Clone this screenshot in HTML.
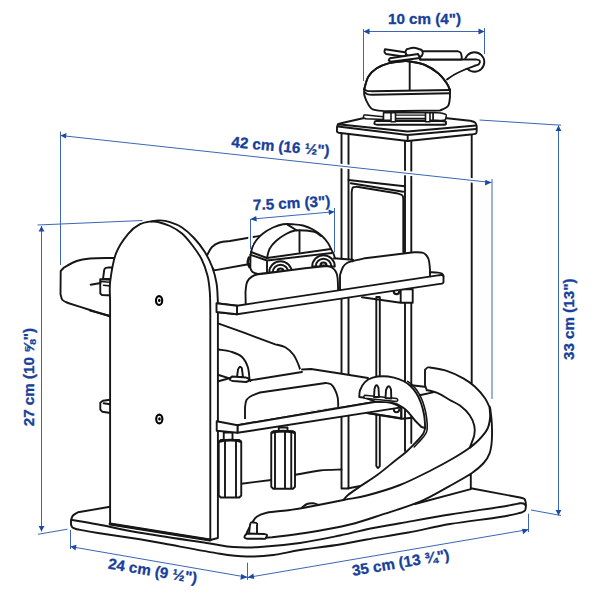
<!DOCTYPE html>
<html><head><meta charset="utf-8">
<style>
html,body{margin:0;padding:0;background:#fff;width:600px;height:600px;overflow:hidden}
svg{position:absolute;left:0;top:0}
.t{font-family:"Liberation Sans",sans-serif;font-weight:bold;font-size:15.2px;fill:#16409a;stroke:#16409a;stroke-width:0.3px}
.d{stroke:#3a66b5;stroke-width:1;fill:none}
.a{fill:#1a4aa5}
.k{stroke:#161616;stroke-width:1.9;fill:none;stroke-linecap:round;stroke-linejoin:round}
.w{stroke:#161616;stroke-width:1.9;fill:#fff;stroke-linecap:round;stroke-linejoin:round}
.f{fill:#fff;stroke:none}
</style></head><body>
<svg width="600" height="600" viewBox="0 0 600 600">
<g id="draw">
<path class="f" d="M110 506.8L78 512.3C77.17 512.83 74.17 514.22 73 515.5C71.83 516.78 71.33 519.25 71 520L71 524.5C71.25 525 71.5 526.7 72.5 527.5C73.5 528.3 76.25 529 77 529.3C80.5 529.92 87.5 531.33 98 533C108.5 534.67 128.83 537.5 140 539.3C151.17 541.1 151.67 541.4 165 543.8C178.33 546.2 206.38 551.58 220 553.7C233.62 555.82 237.82 556.28 246.7 556.5C255.58 556.72 264.42 556.08 273.3 555C282.18 553.92 288.88 551.75 300 550C311.12 548.25 328.88 546.25 340 544.5C351.12 542.75 355.32 541.5 366.7 539.5C378.08 537.5 394.42 535.08 408.3 532.5C422.18 529.92 434.72 526.58 450 524C465.28 521.42 488.05 518.92 500 517C511.95 515.08 518.08 513.25 521.7 512.5C522.25 512.17 524.32 511.42 525 510.5C525.68 509.58 525.67 507.58 525.8 507L525.8 503C525.58 502.33 525.47 499.92 524.5 499C523.53 498.08 520.75 497.75 520 497.5L470.8 488.3Z"/>
<path class="k" d="M110 506.8L78 512.3C77.17 512.83 74.17 514.22 73 515.5C71.83 516.78 71.33 519.25 71 520L71 524.5C71.25 525 71.5 526.7 72.5 527.5C73.5 528.3 76.25 529 77 529.3C80.5 529.92 87.5 531.33 98 533C108.5 534.67 128.83 537.5 140 539.3C151.17 541.1 151.67 541.4 165 543.8C178.33 546.2 206.38 551.58 220 553.7C233.62 555.82 237.82 556.28 246.7 556.5C255.58 556.72 264.42 556.08 273.3 555C282.18 553.92 288.88 551.75 300 550C311.12 548.25 328.88 546.25 340 544.5C351.12 542.75 355.32 541.5 366.7 539.5C378.08 537.5 394.42 535.08 408.3 532.5C422.18 529.92 434.72 526.58 450 524C465.28 521.42 488.05 518.92 500 517C511.95 515.08 518.08 513.25 521.7 512.5C522.25 512.17 524.32 511.42 525 510.5C525.68 509.58 525.67 507.58 525.8 507L525.8 503C525.58 502.33 525.47 499.92 524.5 499C523.53 498.08 520.75 497.75 520 497.5L470.8 488.3"/>
<path class="k" d="M72 520C76.38 520.75 86.97 522.37 98.3 524.5C109.63 526.63 121.93 529.72 140 532.8C158.07 535.88 191.15 540.63 206.7 543C222.25 545.37 224.42 546.33 233.3 547C242.18 547.67 248.88 547.67 260 547C271.12 546.33 286.67 544.92 300 543C313.33 541.08 327.78 538 340 535.5C352.22 533 363.3 530.03 373.3 528C383.3 525.97 387.22 525.55 400 523.3C412.78 521.05 433.33 517.22 450 514.5C466.67 511.78 488.33 508.87 500 507C511.67 505.13 516.67 503.92 520 503.3C520.58 503.33 522.53 503.13 523.5 503.5C524.47 503.87 525.42 505.17 525.8 505.5"/>
<path class="k" d="M341.5 133M341.5 133L341.5 488.5M348.5 134L348.5 488.5M341.5 488.5L348.5 488.5M405 141L405 451M411.3 141L411.3 443M471.7 133L471.7 383"/>
<path class="w" d="M376.3 297L376.3 466C376.58 466.33 377.42 468 378 468C378.58 468 379.5 466.33 379.8 466L379.8 297Z"/>
<path class="k" d="M241.25 483.75L271.25 480"/>
<path class="k" d="M295 475C299.17 474.25 312.25 471.42 320 470.5C327.75 469.58 337.92 469.67 341.5 469.5"/>
<path class="k" d="M348.5 488.3L361.7 485.8"/>
<path class="k" d="M348.5 180M348.5 180L404.5 186.3M350.8 183.3L403.3 191.7"/>
<path class="k" d="M351.7 260L351.7 192C351.88 191.25 351.92 188.37 352.8 187.5C353.68 186.63 356.3 186.92 357 186.8L398 193.5C398.75 193.83 401.62 194.42 402.5 195.5C403.38 196.58 403.17 199.25 403.3 200L403.3 252"/>
<path class="w" d="M341 123.3L363 118.3L435.5 117L470 120.7C470.83 121 473.88 121.62 475 122.5C476.12 123.38 476.42 125.42 476.7 126L476.7 131C476.58 131.42 476.62 132.97 476 133.5C475.38 134.03 473.5 134.08 473 134.2L407.7 141L338.5 132.7C338.25 132.5 337.25 132.03 337 131.5C336.75 130.97 337 129.83 337 129.5L337 127C337.17 126.58 337.33 125.12 338 124.5C338.67 123.88 340.5 123.5 341 123.3Z"/>
<path class="k" d="M338 124.3M338 124.3L407.7 131.5L476 125.5M338 126.5L407.7 135L476 129M407.7 135L407.7 141"/>
<path class="w" d="M364 115C363.92 115.42 363.17 116.88 363.5 117.5C363.83 118.12 365.58 118.5 366 118.7L383.5 119.5L383.5 116.8L366 115Z" style="stroke-width:1.5"/>
<path class="w" d="M433 112.5L441 113C441.83 113.25 445.17 113.83 446 114.5C446.83 115.17 446 116.58 446 117C445.83 117.5 446 119.42 445 120C444 120.58 440.83 120.42 440 120.5L433 120Z" style="stroke-width:1.5"/>
<path class="w" d="M377 121L440 121C440.92 121.08 444.5 121.17 445.5 121.5C446.5 121.83 445.92 122.75 446 123C445.92 123.25 446.5 124.22 445.5 124.5C444.5 124.78 440.92 124.67 440 124.7L377 124.7C376.58 124.58 374.92 124.28 374.5 124C374.08 123.72 374.5 123.17 374.5 123C374.58 122.72 374.58 121.63 375 121.3C375.42 120.97 376.67 121.05 377 121Z"/>
<path class="w" d="M383.5 112.7L433 112.7L433 120.2L383.5 120.2Z" style="stroke-width:1.6"/>
<path class="k" d="M395.5 115.2M395.5 115.2L425.5 115.2M395.5 118.5L425.5 118.5" style="stroke-width:1.3"/>
<path class="w" d="M391 112.7M391 112.7L395.5 112.7L395.5 121.7L391 121.7ZM425.5 112.7M425.5 112.7L430 112.7L430 121.7L425.5 121.7Z" style="stroke-width:1.6"/>
<path class="w" d="M364.2 89.2C364.88 87.12 366.22 80.18 368.3 76.7C370.38 73.22 373.37 70.53 376.7 68.3C380.03 66.07 383.87 64.47 388.3 63.3C392.73 62.13 399.68 61.6 403.3 61.3C406.92 61 406.38 60.88 410 61.5C413.62 62.12 420.28 63.03 425 65C429.72 66.97 434.68 70.25 438.3 73.3C441.92 76.35 444.75 80.52 446.7 83.3C448.65 86.08 449.45 88.88 450 90L450 97C449.67 98.5 449.67 103.75 448 106C446.33 108.25 441.33 109.75 440 110.5L385 111.2C382.83 110.83 375.08 110.7 372 109C368.92 107.3 367.42 102.33 366.5 101C366.13 100 364.68 96.97 364.3 95C363.92 93.03 364.22 90.17 364.2 89.2Z"/>
<path class="k" d="M364.2 89.2C364.67 89.47 365.7 90.47 367 90.8C368.3 91.13 371.17 91.13 372 91.2L450 90"/>
<path class="k" d="M365 92.5C365.5 92.82 366.67 94.02 368 94.4C369.33 94.78 372.17 94.73 373 94.8L450 93.3"/>
<path class="k" d="M409.7 61.7L409.7 89.7"/>
<circle class="w" cx="474.5" cy="62" r="9.8"/>
<path class="f" d="M420 59.5L476 59.5C476.58 59.67 478.87 60 479.5 60.5C480.13 61 479.75 62.17 479.8 62.5C479.58 62.83 479.22 64 478.5 64.5C477.78 65 476 65.33 475.5 65.5C473.75 66.17 468.5 68 465 69.5C461.5 71 457.5 72.83 454.5 74.5C451.5 76.17 448.25 78.67 447 79.5L432 67Z"/>
<path class="k" d="M420 59.5L476 59.5C476.58 59.67 478.87 60 479.5 60.5C480.13 61 479.75 62.17 479.8 62.5C479.58 62.83 479.22 64 478.5 64.5C477.78 65 476 65.33 475.5 65.5C473.75 66.17 468.5 68 465 69.5C461.5 71 457.5 72.83 454.5 74.5C451.5 76.17 448.25 78.67 447 79.5"/>
<path class="w" d="M421.5 51.2L457.5 51.2C458 51.42 459.8 51.62 460.5 52.5C461.2 53.38 461.5 55.83 461.7 56.5L461.7 59.5L420 59.5Z"/>
<path class="k" d="M364.2 89.2C364.88 87.12 366.22 80.18 368.3 76.7C370.38 73.22 373.37 70.53 376.7 68.3C380.03 66.07 383.87 64.47 388.3 63.3C392.73 62.13 399.68 61.6 403.3 61.3C406.92 61 406.38 60.88 410 61.5C413.62 62.12 420.28 63.03 425 65C429.72 66.97 434.68 70.25 438.3 73.3C441.92 76.35 444.75 80.52 446.7 83.3C448.65 86.08 449.45 88.88 450 90"/>
<path class="w" d="M385 49.2L406.7 52.5L405 56.7L386 54C385.75 53.67 384.67 52.8 384.5 52C384.33 51.2 384.92 49.67 385 49.2Z"/>
<path class="w" d="M406.7 49.2C407.92 48.97 411.5 47.67 414 47.8C416.5 47.93 420.42 49.63 421.7 50C421.88 50.5 422.8 52 422.8 53C422.8 54 421.88 55.5 421.7 56C420.42 56.22 416.5 57.47 414 57.3C411.5 57.13 407.92 55.38 406.7 55C406.5 54.5 405.5 52.97 405.5 52C405.5 51.03 406.5 49.67 406.7 49.2Z"/>
<path class="w" d="M390 58.3L418 54L420 58L390.5 61.7C390.2 61.42 388.78 60.57 388.7 60C388.62 59.43 389.78 58.58 390 58.3Z"/>
<path class="w" d="M206 258L207.5 254.5C208.25 253.25 210 249 212 247C214 245 216.5 243.5 219.5 242.5C222.5 241.5 228.25 241.25 230 241L300 229L300 255L247 264.5L214.2 270.4Z"/>
<path class="w" d="M250.8 254C251.08 252.83 251.55 249.33 252.5 247C253.45 244.67 254.75 242.25 256.5 240C258.25 237.75 260.25 235.58 263 233.5C265.75 231.42 269.67 229.03 273 227.5C276.33 225.97 279.67 224.83 283 224.3C286.33 223.77 289.67 224.1 293 224.3C296.33 224.5 299.67 224.63 303 225.5C306.33 226.37 309.83 227.75 313 229.5C316.17 231.25 319.5 233.75 322 236C324.5 238.25 326.5 240.83 328 243C329.5 245.17 330.5 248 331 249C331.5 250 333.25 252.83 334 255C334.75 257.17 335.33 260 335.5 262C335.67 264 335.08 266.17 335 267L258 274C257.08 273.67 253.78 273 252.5 272C251.22 271 250.67 268.67 250.3 268L250.5 254.5Z"/>
<path class="k" d="M251 252M251 252L267 258L331 249M250.5 254.8L267 260.5L332 253M267 260.5L267 272.5M299.5 230.5L299.5 251.5"/>
<path class="k" d="M267 258C267.42 256.5 268 251.83 269.5 249C271 246.17 273.25 243.5 276 241C278.75 238.5 282.83 235.75 286 234C289.17 232.25 291.83 231.08 295 230.5C298.17 229.92 301.67 230.25 305 230.5C308.33 230.75 312.33 231.08 315 232C317.67 232.92 320 235.33 321 236"/>
<path class="k" d="M287.5 224.6L296.5 230.3"/>
<path class="k" d="M249 257.5C248.8 258.33 247.72 260.92 247.8 262.5C247.88 264.08 249.22 266.25 249.5 267" style="stroke-width:2.6"/>
<path class="f" d="M333 259L353 260.5L353 292L333 292Z"/>
<path class="k" d="M334 258.2L353 259.7"/>
<path class="w" d="M269.2 272.5A11.3 11.3 0 0 1 291.8 272.5Z"/>
<path class="k" d="M272.7 272.5A7.8 7.8 0 0 1 288.3 272.5"/>
<path class="w" d="M277.5 271.5A3 3 0 0 1 283.5 271.5Z" style="stroke-width:2.2"/>
<path class="w" d="M312.2 266.5A11.3 11.3 0 0 1 334.8 266.5Z"/>
<path class="k" d="M315.7 266.5A7.8 7.8 0 0 1 331.3 266.5"/>
<path class="w" d="M320.5 265.5A3 3 0 0 1 326.5 265.5Z" style="stroke-width:2.2"/>
<path class="w" d="M340 292.5L340 275C340.5 273.67 341.83 269 343 267C344.17 265 345.33 264 347 263C348.67 262 350 261.8 353 261C356 260.2 363 258.67 365 258.2L414 252.3C415.58 252.42 421.08 251.88 423.5 253C425.92 254.12 427.42 256.17 428.5 259C429.58 261.83 429.75 268.17 430 270L430 279Z"/>
<path class="w" d="M245.7 305.5L245.5 292C245.67 290.67 245.92 286.17 246.5 284C247.08 281.83 247.58 280.5 249 279C250.42 277.5 252.33 275.92 255 275C257.67 274.08 263.33 273.75 265 273.5L305 268.3L327 266C327.83 266.25 330.5 266.5 332 267.5C333.5 268.5 335.07 270.25 336 272C336.93 273.75 337.23 274.58 337.6 278C337.97 281.42 338.1 290.08 338.2 292.5Z"/>
<path class="w" d="M362 297.3L400.7 302.7L400.7 289.3L412.7 289.3L412.7 302.7L400.7 302.7"/>
<path class="k" d="M393.8 291.5A2.7 2.7 0 0 0 399.2 291.5" style="stroke-width:2.2"/>
<path class="k" d="M430 272.2C431.33 272.27 436.03 272.37 438 272.6C439.97 272.83 440.88 273.03 441.8 273.6C442.72 274.17 443.22 275.6 443.5 276"/>
<path class="w" d="M237 305.7L438 275.4C438.67 275.33 441.08 274.82 442 275C442.92 275.18 443.25 276.25 443.5 276.5L443.5 282C443.33 282.25 443.08 283.18 442.5 283.5C441.92 283.82 440.42 283.83 440 283.9L237 314.2Z"/>
<path class="w" d="M216.3 303.3L237 305.7L237 314.2L216.3 312Z"/>
<path class="f" d="M218.7 323.7L245.3 333.2L275.3 344.3C276.97 344.8 282.23 345.52 285.3 347.3C288.37 349.08 291.47 352 293.7 355C295.93 358 297.6 362.75 298.7 365.3C299.8 367.85 300.03 369.47 300.3 370.3L302.8 370.8L302.8 372.3L250 381L218.7 376Z"/>
<path class="k" d="M218.7 323.7L245.3 333.2L275.3 344.3C276.97 344.8 282.23 345.52 285.3 347.3C288.37 349.08 291.47 352 293.7 355C295.93 358 297.6 362.75 298.7 365.3C299.8 367.85 300.03 369.47 300.3 370.3L302.8 370.8L302.8 372.3"/>
<path class="k" d="M218.7 349.5C220.92 349.92 228.12 350.75 232 352C235.88 353.25 239.37 354.5 242 357C244.63 359.5 246.55 363.38 247.8 367C249.05 370.62 249.08 376.33 249.5 378.7C249.92 381.07 250.17 380.78 250.3 381.2"/>
<path class="k" d="M218.7 375L230.3 378.7"/>
<path class="k" d="M217.5 381.5L232 377.5"/>
<path class="f" d="M300.3 369L311 369L341.7 373.7L370 377.7L399 403L238 428Z"/>
<path class="k" d="M250.3 380.3M250.3 380.3L302 372"/>
<path class="k" d="M302 369.5L311 369L341.7 373.7L368 378"/>
<path class="w" d="M237 377L238 369.5C238.3 369.05 239.17 367.05 239.8 366.8C240.43 366.55 241.47 367.8 241.8 368L243 377Z"/>
<path class="w" d="M232 376.5L246 377.5C246.47 377.72 248.38 378.22 248.8 378.8C249.22 379.38 248.55 380.63 248.5 381L246 382L233 381C232.5 380.83 230.42 380.5 230 380C229.58 379.5 230.42 378.33 230.5 378Z"/>
<path class="w" d="M245 421L245 407.5C245.25 406.25 245.46 401.92 246.5 400C247.54 398.08 249 397.25 251.25 396C253.5 394.75 258.54 393.08 260 392.5L325.7 383C326.58 383.22 329.45 383.18 331 384.3C332.55 385.42 333.88 387.47 335 389.7C336.12 391.93 337.15 394.65 337.7 397.7C338.25 400.75 338.2 406.28 338.3 408Z"/>
<path class="f" d="M216.25 421.5L245 419L338 407L376 402L380 402.5L237.5 425.2Z"/>
<path class="w" d="M237.5 425.2L376 401.8L401.3 407.7L401.3 418.3L367.3 413"/>
<path class="w" d="M237.5 425.2L376 401.8C378.33 401.92 385.78 401.57 390 402.5C394.22 403.43 399.42 406.58 401.3 407.4L237.5 432.8Z"/>
<path class="k" d="M367.3 413L401.8 418.8L412.7 417.7"/>
<path class="k" d="M401.3 407.7L401.3 418.6"/>
<path class="k" d="M393.8 409.5A2.7 2.7 0 0 0 399.2 409.5"/>
<path class="w" d="M223.75 432.5L232.5 432.5L232.5 440L223.75 440Z"/>
<path class="w" d="M220.75 440L239.25 440L241.25 442L241.25 495.5L239.25 497.5L220.75 497.5L218.75 495.5L218.75 442L220.75 440Z"/>
<path class="k" d="M225 441M225 441L225 497M236 441L236 497"/>
<path class="w" d="M278.75 427.5L287.5 427.5L287.5 431.25L278.75 431.25Z"/>
<path class="w" d="M273.25 431.25L293 431.25L295 433.25L295 486.75L293 488.75L273.25 488.75L271.25 486.75L271.25 433.25L273.25 431.25Z"/>
<path class="k" d="M275 432M275 432L275 488M285 432L285 488M291.25 432L291.25 488"/>
<path class="k" d="M219.5 441.5C220.42 441.3 222.25 440.5 225 440.3C227.75 440.1 233.42 440.1 236 440.3C238.58 440.5 239.75 441.3 240.5 441.5" style="stroke-width:2.8"/>
<path class="k" d="M272 432.5C273 432.3 275.33 431.5 278 431.3C280.67 431.1 285.28 431.1 288 431.3C290.72 431.5 293.25 432.3 294.3 432.5" style="stroke-width:2.8"/>
<path class="w" d="M415 504L470.8 489.2L470.8 474L440 482Z"/>
<path class="f" d="M425.2 428C424.83 429 424.53 431.63 423 434C421.47 436.37 418.72 439.28 416 442.2C413.28 445.12 410.2 448.4 406.7 451.5C403.2 454.6 399.87 456.92 395 460.8C390.13 464.68 383.33 470.52 377.5 474.8C371.67 479.08 364.92 483.13 360 486.5C355.08 489.87 350.75 492.75 348 495C345.25 497.25 344.25 499.17 343.5 500L343.5 500L366.7 495.5L400 485L431.7 470L453.3 458.3L469.7 447.8L479 439.7L487.2 429.2L490.1 417.5L489.5 407Z"/>
<path class="w" d="M490.3 409C490.55 411.38 491.55 418 491.8 423.3C492.05 428.6 492.18 435.73 491.8 440.8C491.42 445.87 490.85 450 489.5 453.7C488.15 457.4 486.62 459.78 483.7 463C480.78 466.22 477.62 469.2 472 473C466.38 476.8 458.67 481.02 450 485.8C441.33 490.58 431.12 496.97 420 501.7C408.88 506.43 394.97 510.4 383.3 514.2C371.63 518 362.77 521.4 350 524.5C337.23 527.6 319.7 530.67 306.7 532.8C293.7 534.93 277.78 536.55 272 537.3L262 538L250 537.5C249.42 536.92 246.22 536.37 246.5 534C246.78 531.63 250.83 525.08 251.7 523.3C251.7 523.3 250.87 524.4 251.7 523.3C252.53 522.2 254.2 518.47 256.7 516.7C259.2 514.93 261.15 513.82 266.7 512.7C272.25 511.58 283.33 510.9 290 510C296.67 509.1 297.78 508.97 306.7 507.3C315.62 505.63 333.5 501.97 343.5 500C353.5 498.03 357.28 498 366.7 495.5C376.12 493 389.17 489.25 400 485C410.83 480.75 422.82 474.45 431.7 470C440.58 465.55 446.97 462 453.3 458.3C459.63 454.6 465.42 450.9 469.7 447.8C473.98 444.7 476.08 442.8 479 439.7C481.92 436.6 485.35 432.9 487.2 429.2C489.05 425.5 489.72 421.2 490.1 417.5C490.48 413.8 489.6 408.75 489.5 407Z"/>
<path class="w" d="M425 385L425 370C425.42 369.58 426.67 367.92 427.5 367.5C428.33 367.08 429.58 367.5 430 367.5C432.78 368.05 441.15 369 446.7 370.8C452.25 372.6 458.58 375.65 463.3 378.3C468.02 380.95 471.38 383.37 475 386.7C478.62 390.03 482.45 394.58 485 398.3C487.55 402.02 489.42 407.22 490.3 409C490.17 408.67 489.53 405.58 489.5 407C489.47 408.42 490.48 413.8 490.1 417.5C489.72 421.2 489.05 425.5 487.2 429.2C485.35 432.9 481.92 436.6 479 439.7C476.08 442.8 471.25 446.45 469.7 447.8C470.47 445.67 473.53 438.68 474.3 435C475.07 431.32 475.07 429 474.3 425.7C473.53 422.4 472.03 418.52 469.7 415.2C467.37 411.88 463.62 408.33 460.3 405.8C456.98 403.27 453.47 402.08 449.8 400C446.13 397.92 442.15 394.97 438.3 393.3C434.45 391.63 428.63 390.55 426.7 390C426.7 390 426.98 390.83 426.7 390C426.42 389.17 425.28 385.83 425 385Z"/>
<path class="k" d="M411.5 385.2L424.5 386.8"/>
<path class="k" d="M419.5 395.2L433 392.4"/>
<path class="w" d="M359.3 397C359.42 395.88 359.1 392.75 360 390.3C360.9 387.85 362.58 384.4 364.7 382.3C366.82 380.2 369.6 378.7 372.7 377.7C375.8 376.7 379.75 376.3 383.3 376.3C386.85 376.3 390.67 376.92 394 377.7C397.33 378.48 400.55 379.62 403.3 381C406.05 382.38 408.3 383.92 410.5 386C412.7 388.08 414.75 390.67 416.5 393.5C418.25 396.33 419.72 399.33 421 403C422.28 406.67 423.5 411.33 424.2 415.5C424.9 419.67 425.03 425.92 425.2 428L421.5 427C421.5 427 421.92 427.42 421.5 427C421.08 426.58 420.08 425.58 419 424.5C417.92 423.42 416.5 422.2 415 420.5C413.5 418.8 411.95 416.43 410 414.3C408.05 412.17 406.3 409.62 403.3 407.7C400.3 405.78 396.55 403.78 392 402.8C387.45 401.82 378.67 401.97 376 401.8L364.7 397.7Z"/>
<path class="k" d="M425.2 428C424.83 429 424.53 431.63 423 434C421.47 436.37 418.72 439.28 416 442.2C413.28 445.12 410.2 448.4 406.7 451.5C403.2 454.6 399.87 456.92 395 460.8C390.13 464.68 383.33 470.52 377.5 474.8C371.67 479.08 364.92 483.13 360 486.5C355.08 489.87 350.75 492.75 348 495C345.25 497.25 344.25 499.17 343.5 500"/>
<path class="k" d="M407.61 381.35L409.07 382.32L410.53 383.39L411.85 384.53L413.03 385.7L414.15 386.93L415.23 388.22L416.27 389.58L417.26 390.99L418.2 392.45L419.09 393.94L419.93 395.48L420.73 397.08L421.49 398.74L422.21 400.49L422.89 402.34L423.54 404.31L424.17 406.4L424.76 408.56L425.29 410.78L425.77 412.99L426.17 415.17L426.51 417.38L426.8 419.68L427.03 421.99L427.18 424.22L427.24 426.28L427.2 428.11L427.06 429.61L426.82 430.88L426.46 432.01L425.96 433.04L425.38 434.01L424.66 435.12L423.74 436.42L422.65 437.8L421.45 439.21L420.16 440.65L418.82 442.1L417.45 443.57L415.91 445.19L414.14 446.98" style="stroke-width:1.6"/>
<path class="w" d="M364.7 395.2L396.7 398.5C396.88 398.75 397.8 399.5 397.8 400C397.8 400.5 396.88 401.25 396.7 401.5L364.7 398.2C364.55 397.95 363.8 397.2 363.8 396.7C363.8 396.2 364.55 395.45 364.7 395.2Z" style="stroke-width:1.5"/>
<path class="w" d="M374 397L374.5 389C374.67 388.5 375.08 386.62 375.5 386C375.92 385.38 376.5 384.97 377 385.3C377.5 385.63 378.25 387.55 378.5 388L379 397Z"/>
<path class="w" d="M385.5 398L386 390C386.25 389.5 386.92 387.58 387.5 387C388.08 386.42 388.92 386.08 389.5 386.5C390.08 386.92 390.75 389 391 389.5L391.3 398.5Z"/>
<path class="k" d="M302 507.5C302.83 506.92 305.17 504.7 307 504C308.83 503.3 311 503.13 313 503.3C315 503.47 318 504.72 319 505"/>
<path class="w" d="M249 534L250 525C250.17 524.58 250.33 522.92 251 522.5C251.67 522.08 253.5 522.5 254 522.5C254.5 522.67 256.5 522.92 257 523.5C257.5 524.08 257 525.58 257 526L257 534Z"/>
<path class="w" d="M247 533.5L264 534C264.5 534.17 266.67 534.42 267 535C267.33 535.58 266.17 537.08 266 537.5C265.83 537.71 265.67 538.54 265 538.75C264.33 538.96 262.5 538.75 262 538.75L247 538.75C246.58 538.54 244.83 538.04 244.5 537.5C244.17 536.96 244.92 535.83 245 535.5Z"/>
<path class="w" d="M115 258L110 258C106.67 258.08 95.55 258 90 258.5C84.45 259 81.03 259.5 76.7 261C72.37 262.5 66.12 266.42 64 267.5L60.7 271L60.5 294C60.83 295 61.25 298.5 62.5 300C63.75 301.5 67.08 302.5 68 303C71.67 304.17 83.17 307.83 90 310C96.83 312.17 105.83 315 109 316L115 318Z"/>
<path class="w" d="M103 279L104.2 270C104.37 269.7 104.52 268.62 105.2 268.2C105.88 267.78 107.78 267.62 108.3 267.5L112 267.5L112 279Z"/>
<path class="w" d="M100.2 279.3L112 279.8L112 295.5L102 295L100.3 293.5Z"/>
<path class="k" d="M100.5 281.5M100.5 281.5L110 282.2M103.5 285.3L110 285.9" style="stroke-width:1.6"/>
<path class="k" d="M90.7 284.7L100.7 283"/>
<path class="k" d="M90 310.5L112 316.5"/>
<path class="w" d="M112 399.5L102.8 400.8L100.3 402.8L100.3 409.5L102.5 411.8L112 413.2Z"/>
<path class="k" d="M103.7 403.3L110 404.3"/>
<path class="w" d="M110.1 524L110.1 300C110.12 296.92 109.22 289.28 110.2 281.5C111.18 273.72 113 261.25 116 253.3C119 245.35 124.2 238.65 128.2 233.8C132.2 228.95 136.03 226.3 140 224.2C143.97 222.1 148.67 221.83 152 221.2C155.33 220.57 157 220.23 160 220.4C163 220.57 166.33 221.02 170 222.2C173.67 223.38 178 224.87 182 227.5C186 230.13 190.25 234 194 238C197.75 242 201.5 246.75 204.5 251.5C207.5 256.25 210 261.25 212 266.5C214 271.75 215.53 277.25 216.5 283C217.47 288.75 217.57 295.67 217.8 301C218.03 306.33 217.88 312.67 217.9 315L217.9 538L210.3 540Z"/>
<path class="k" d="M152 221.6C153 221.67 155 221.27 158 222C161 222.73 166 224.08 170 226C174 227.92 178.25 230.25 182 233.5C185.75 236.75 189.25 241.25 192.5 245.5C195.75 249.75 199 254 201.5 259C204 264 206.12 270 207.5 275.5C208.88 281 209.33 286.25 209.8 292C210.27 297.75 210.22 307 210.3 310L210.3 540"/>
<ellipse cx="159.1" cy="300.5" rx="3.1" ry="4.4" fill="none" stroke="#000" stroke-width="2.1"/><ellipse cx="159.3" cy="300.4" rx="1.3" ry="1.6"/>
<ellipse cx="159.3" cy="419" rx="3.1" ry="4.4" fill="none" stroke="#000" stroke-width="2.1"/><ellipse cx="159.5" cy="418.9" rx="1.3" ry="1.6"/>
<path class="k" d="M110.1 524L210 540" style="stroke-width:3"/>
<path class="w" d="M216.5 303.3L237 305.7L237 314.2L216.5 312Z"/>
<path class="w" d="M216.7 421.25L237.5 425.2L237.5 432.8L216.7 430.8Z"/>
</g>
<path d="M60.5 135.5L491.5 182.5M250.5 230V245" stroke="#fff" stroke-width="4.5" fill="none"/>
<g id="dims">
<path class="d" d="M363.5 29V81M484.5 28V54M363.5 31.5H484.5"/>
<path class="a" d="M363.5 31.5l6-3v6zM484.5 31.5l-6-3v6z"/>
<text class="t" x="388" y="24">10 cm (4")</text>
<path class="d" d="M60.5 131.5V265M492 179V399M60.5 135.5L491.5 182.5"/>
<path class="a" d="M60.5 135.5l6 -2.6l-0.6 5.6zM491.5 182.5l-6.1 -2.7l-0.5 5.6z"/>
<text class="t" transform="translate(231 147) rotate(5.3)">42 cm (16 ½")</text>
<path class="d" d="M479.5 120L561 125.2M531 510L561 515.5M558.5 125.5V515.5"/>
<path class="a" d="M558.5 125.5l-2.9 5.6h5.8zM558.5 515.5l-2.9 -5.6h5.8z"/>
<text class="t" transform="translate(574 360) rotate(-90)">33 cm (13")</text>
<path class="d" d="M37.5 225L142.5 220.5M38 534.3L67.5 529.2M41.5 226V531.5"/>
<path class="a" d="M41.5 226l-2.9 5.6h5.8zM41.5 531.5l-2.9 -5.6h5.8z"/>
<text class="t" transform="translate(34.2 426.3) rotate(-90)">27 cm (10 ⅝")</text>
<path class="d" d="M250.5 219V249M334.5 208V252.5M250.5 219.2L334.5 211.7"/>
<path class="a" d="M250.5 219.2l5.7 -3.3l0.6 5.6zM334.5 211.7l-6 -2.3l0.5 5.6z"/>
<text class="t" transform="translate(253.3 210.3) rotate(-3)">7.5 cm (3")</text>
<path class="d" d="M70.5 530V549M247.5 562.7V580M70.5 546.6L247.5 577.3"/>
<path class="a" d="M70.5 546.6l6 -1.8l-1 5.6zM247.5 577.3l-6.2 -3.2l-1 5.6z"/>
<text class="t" transform="translate(107.5 568.5) rotate(9.5)">24 cm (9 ½")</text>
<path class="d" d="M528.5 513.75V532M247.5 577.5L528.5 529.5"/>
<path class="a" d="M247.5 577.5l5.8 -3.9l1 5.5zM528.5 529.5l-6.4 -0.8l1 5.5z"/>
<text class="t" transform="translate(353 576) rotate(-9.6)">35 cm (13 ¾")</text>
</g>
</svg>
</body></html>
